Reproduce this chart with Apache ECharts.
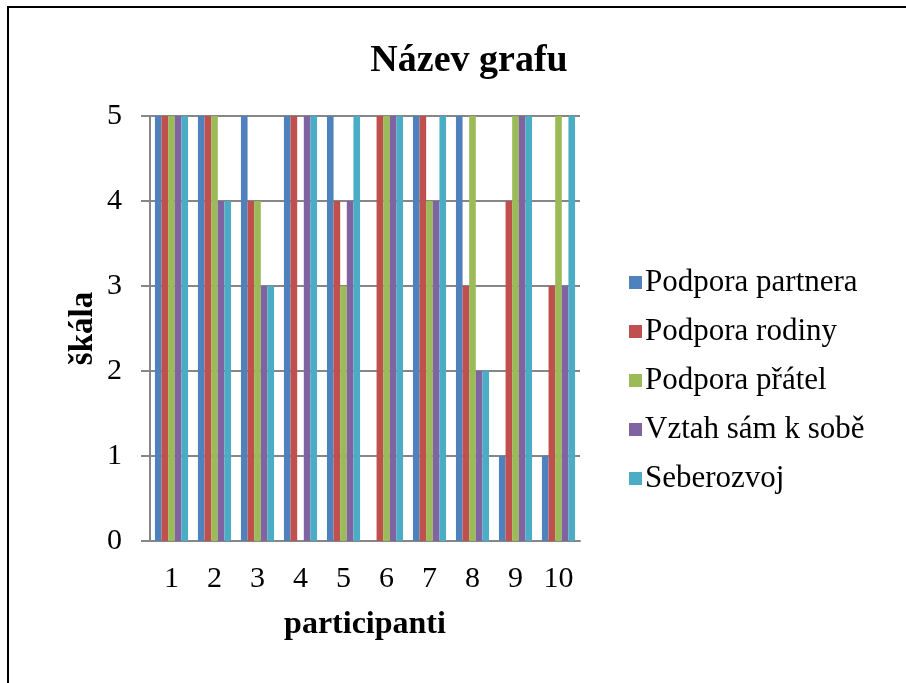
<!DOCTYPE html>
<html>
<head>
<meta charset="utf-8">
<script src="https://cdn.jsdelivr.net/npm/echarts@6/dist/echarts.min.js"></script>
<style>
  html, body { margin: 0; padding: 0; background: #fff; }
  #chart { width: 906px; height: 683px; }
</style>
</head>
<body>
<div id="chart"></div>
<script>
  // participanti 1..10
  var categories = ['1', '2', '3', '4', '5', '6', '7', '8', '9', '10']
  var seriesNames = ['Podpora partnera', 'Podpora rodiny', 'Podpora přátel', 'Vztah sám k sobě', 'Seberozvoj']
  var partner = [5, 5, 5, 5, 5, 0, 5, 5, 1, 1]
  var rodina = [5, 5, 4, 5, 4, 5, 5, 3, 4, 3]
  var pratele = [5, 5, 4, 0, 3, 5, 4, 5, 5, 5]
  var samKSobe = [5, 4, 3, 5, 4, 5, 4, 2, 5, 3]
  var seberozvoj = [5, 4, 3, 5, 5, 5, 5, 2, 5, 5]
  var yTicks = [0, 1, 2, 3, 4, 5]

  var colors = ['#4F81BD', '#C0504D', '#9BBB59', '#8064A2', '#4BACC6']
  var values = [partner, rodina, pratele, samKSobe, seberozvoj]
  var font = '"Liberation Serif", "Times New Roman", serif'

  var chart = echarts.init(document.getElementById('chart'))

  chart.setOption({
    animation: false,
    color: colors,
    textStyle: { fontFamily: font },
    graphic: [{
      type: 'rect',
      shape: { x: 8, y: 7, width: 920, height: 700 },
      style: { fill: 'none', stroke: '#000', lineWidth: 2 },
      silent: true
    }],
    title: {
      text: 'Název grafu',
      left: 464,
      textAlign: 'center',
      top: 37,
      textStyle: { fontFamily: font, fontSize: 38, fontWeight: 'bold', color: '#000' }
    },
    legend: {
      orient: 'vertical',
      left: 624,
      top: 262,
      itemWidth: 13,
      itemHeight: 13,
      itemGap: 18,
      icon: 'rect',
      textStyle: { fontFamily: font, fontSize: 31, color: '#000', lineHeight: 31, padding: [0, 0, 0, -2] },
      data: seriesNames
    },
    grid: {
      left: 150,
      right: 326,
      top: 116,
      bottom: 142
    },
    xAxis: {
      type: 'category',
      data: categories,
      name: 'participanti',
      nameLocation: 'middle',
      nameGap: 68,
      nameTextStyle: { fontFamily: font, fontSize: 32, fontWeight: 'bold', color: '#000' },
      axisLine: { lineStyle: { color: '#868686', width: 2 } },
      axisTick: { show: false },
      axisLabel: { fontFamily: font, fontSize: 30, color: '#000', margin: 23 }
    },
    yAxis: {
      type: 'value',
      min: yTicks[0],
      max: yTicks[yTicks.length - 1],
      interval: 1,
      name: 'škála',
      nameLocation: 'middle',
      nameGap: 50,
      nameRotate: 90,
      nameTextStyle: { fontFamily: font, fontSize: 33, fontWeight: 'bold', color: '#000' },
      axisLine: { show: true, lineStyle: { color: '#868686', width: 2 } },
      axisTick: { show: true, length: 9, lineStyle: { color: '#868686', width: 2 } },
      axisLabel: { fontFamily: font, fontSize: 30, color: '#000', margin: 28 },
      splitLine: { lineStyle: { color: '#868686', width: 2 } }
    },
    series: seriesNames.map(function (name, i) {
      return {
        name: name,
        type: 'bar',
        barGap: 0,
        barCategoryGap: '23%',
        data: values[i]
      }
    })
  })
</script>
</body>
</html>
